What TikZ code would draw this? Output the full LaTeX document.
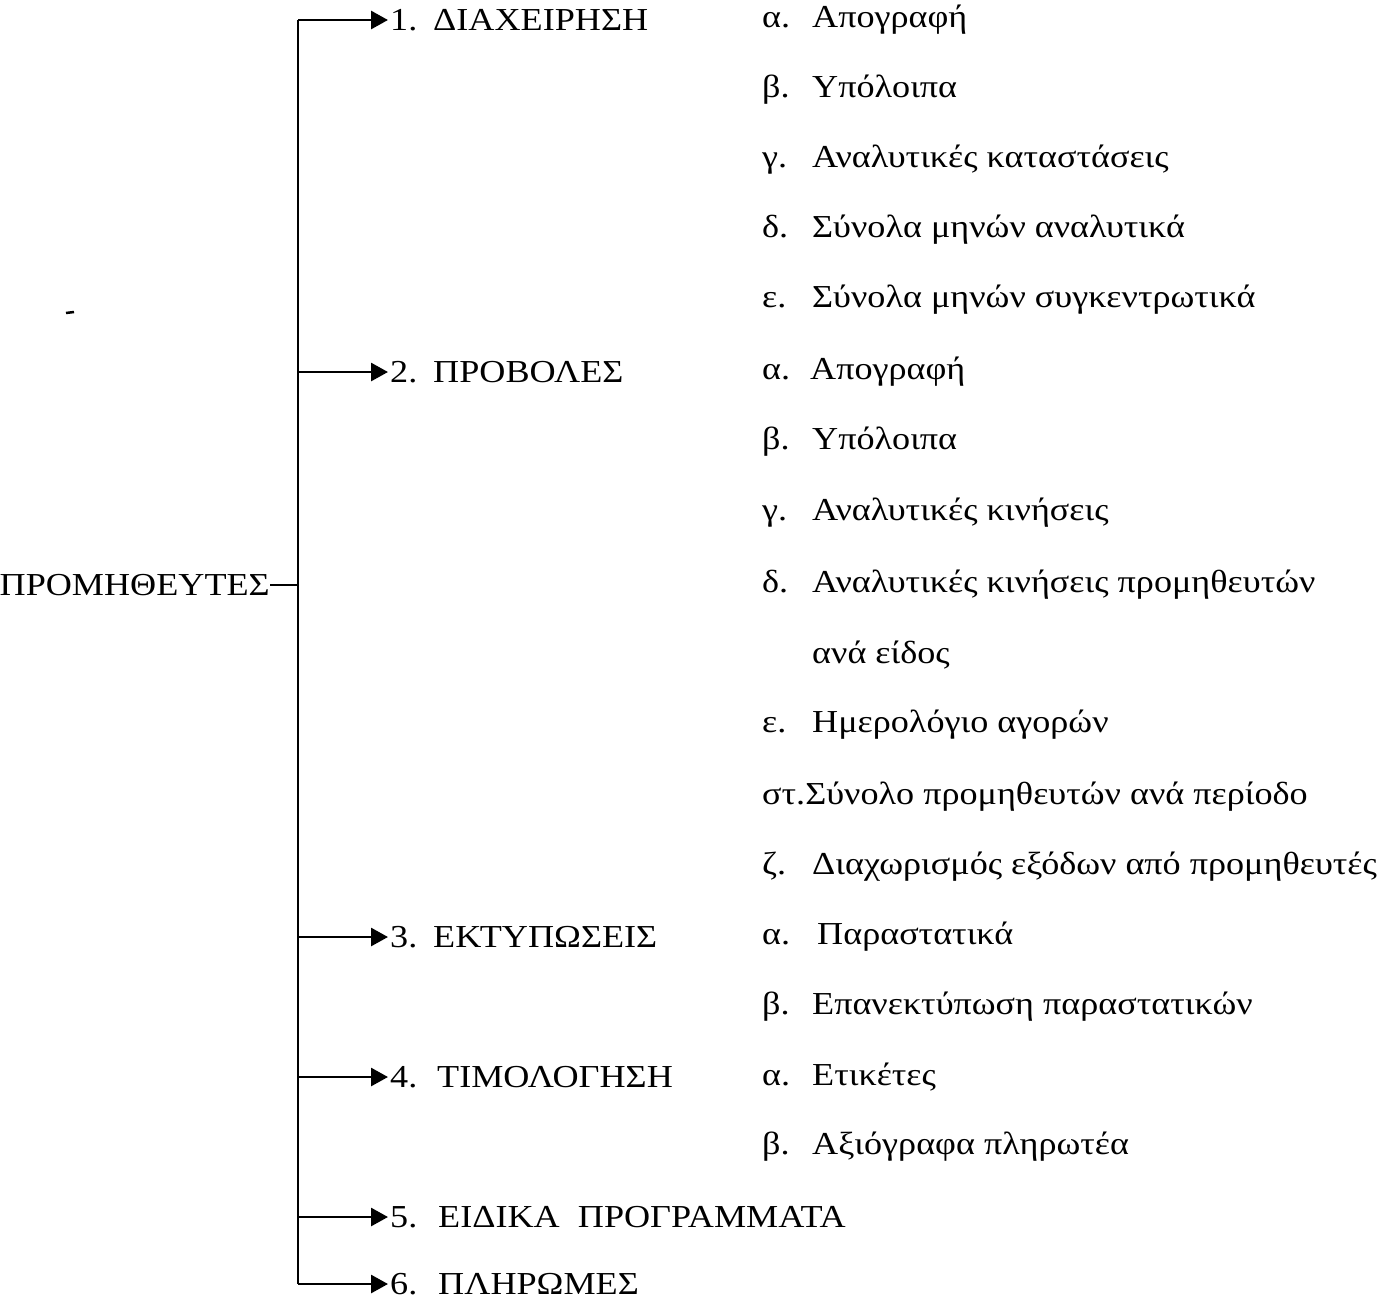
\documentclass[tikz,border=0pt]{standalone}
\usepackage{fontspec}
\setmainfont{Liberation Serif}[FakeStretch=1.13]
\usetikzlibrary{arrows.meta}
\begin{document}
\begin{tikzpicture}[x=1pt,y=-1pt,
  every node/.style={font=\fontsize{32}{38}\selectfont, inner sep=0pt},
  main/.style={anchor=west, inner xsep=2pt},
  sub/.style={anchor=west},
  wire/.style={line width=2.8pt},
  arr/.style={wire, -{Triangle[length=17pt,width=18pt]}}]
\useasboundingbox (0,0) rectangle (1396,1301);
% root
\node[anchor=east] (root) at (270,585) {ΠΡΟΜΗΘΕΥΤΕΣ};
\coordinate (sr) at (298,585);
% spine points
\foreach \n/\y in {1/20,2/372,3/937,4/1077,5/1217,6/1284}{
  \coordinate (s\n) at (298,\y);
}
% main items
\node[main] (m1) at (388,20) {\makebox[43pt][l]{1.}ΔΙΑΧΕΙΡΗΣΗ};
\node[main] (m2) at (388,372) {\makebox[43pt][l]{2.}ΠΡΟΒΟΛΕΣ};
\node[main] (m3) at (388,937) {\makebox[43pt][l]{3.}ΕΚΤΥΠΩΣΕΙΣ};
\node[main] (m4) at (388,1077) {\makebox[47pt][l]{4.}ΤΙΜΟΛΟΓΗΣΗ};
\node[main] (m5) at (388,1217) {\makebox[48pt][l]{5.}ΕΙΔΙΚΑ\ \ ΠΡΟΓΡΑΜΜΑΤΑ};
\node[main] (m6) at (388,1284) {\makebox[48pt][l]{6.}ΠΛΗΡΩΜΕΣ};
% connectors
\draw[wire] (s1) -- (s6);
\draw[wire] (root.east |- sr) -- (sr);
\foreach \n in {1,...,6}{
  \draw[arr] (s\n) -- (s\n -| m\n.west);
}
% sub items
\node[sub] (a1) at (762,20)  {\makebox[50pt][l]{α.}Απογραφή};
\node[sub] (a2) at (762,90)  {\makebox[50pt][l]{β.}Υπόλοιπα};
\node[sub] (a3) at (762,160) {\makebox[50pt][l]{γ.}Αναλυτικές καταστάσεις};
\node[sub] (a4) at (762,230) {\makebox[50pt][l]{δ.}Σύνολα μηνών αναλυτικά};
\node[sub] (a5) at (762,300) {\makebox[50pt][l]{ε.}Σύνολα μηνών συγκεντρωτικά};
\node[sub] (b1) at (762,372) {\makebox[48pt][l]{α.}Απογραφή};
\node[sub] (b2) at (762,442) {\makebox[50pt][l]{β.}Υπόλοιπα};
\node[sub] (b3) at (762,513) {\makebox[50pt][l]{γ.}Αναλυτικές κινήσεις};
\node[sub] (b4) at (762,585) {\makebox[50pt][l]{δ.}Αναλυτικές κινήσεις προμηθευτών};
\node[sub] (b4b) at (812,655) {ανά είδος};
\node[sub] (b5) at (762,725) {\makebox[50pt][l]{ε.}Ημερολόγιο αγορών};
\node[sub] (b6) at (762,797) {στ.Σύνολο προμηθευτών ανά περίοδο};
\node[sub] (b7) at (762,867) {\makebox[50pt][l]{ζ.}Διαχωρισμός εξόδων από προμηθευτές};
\node[sub] (c1) at (762,937) {\makebox[55pt][l]{α.}Παραστατικά};
\node[sub] (c2) at (762,1007) {\makebox[50pt][l]{β.}Επανεκτύπωση παραστατικών};
\node[sub] (d1) at (762,1077) {\makebox[50pt][l]{α.}Ετικέτες};
\node[sub] (d2) at (762,1147) {\makebox[50pt][l]{β.}Αξιόγραφα πληρωτέα};
% scan mark
\draw[line width=2.5pt] (66,313) -- (74,312);
\end{tikzpicture}
\end{document}
